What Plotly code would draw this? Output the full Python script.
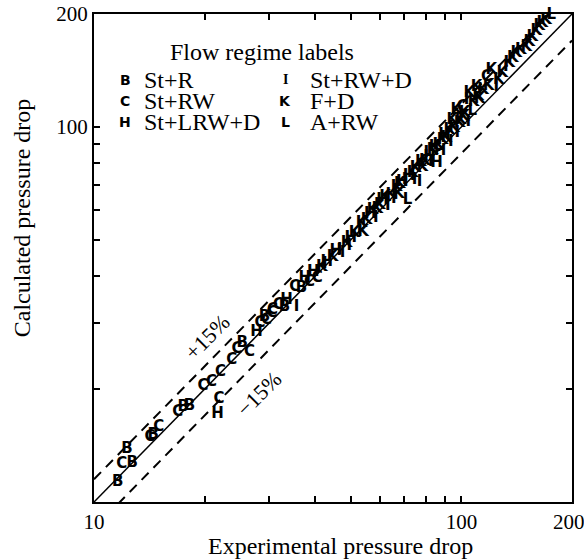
import plotly.graph_objects as go

# ---- data ----
exp_drop = [11.6, 11.9, 12.7, 12.3, 14.2, 14.5, 15.0, 16.9, 17.5, 18.2, 19.8, 20.9,
            22.1, 23.7, 24.5, 26.5, 25.3, 27.7, 29.5, 30.5, 21.7, 21.9, 28.3, 29.1,
            30.6, 31.8, 33.0, 33.4, 35.6, 35.2, 36.7, 37.5, 38.6, 39.5, 40.5, 41.7,
            43.0, 44.6, 46.6, 47.5, 48.7, 50.0, 51.2, 52.8, 53.5, 55.2, 57.3, 58.5,
            60.0, 61.0, 63.0, 64.5, 66.6, 67.5, 69.0, 70.0, 71.3, 73.6, 75.0, 76.9,
            78.3, 79.5, 80.3, 81.9, 83.4, 85.5, 86.5, 88.8, 90.0, 92.7, 94.5, 95.5,
            96.9, 97.5, 98.8, 100.6, 101.5, 103.2, 105.1, 107.0, 109.9, 112.0, 114.5,
            117.0, 120.6, 124.5, 129.2, 132.0, 135.0, 141.0, 145.0, 150.2, 156.0,
            160.0, 166.0, 170.0, 175.7,
            42.5, 45.5, 49.5, 54.0, 56.5, 59.0, 62.0, 65.5, 68.0, 72.0, 74.5, 77.5,
            82.5, 84.5, 87.5, 91.0, 93.5, 99.5, 102.0, 104.5, 108.0, 111.0, 118.5,
            126.5, 138.0, 153.0, 163.0]
calc_drop = [11.3, 12.6, 12.7, 13.8, 14.9, 15.1, 15.8, 17.3, 17.9, 18.0, 20.3, 20.9,
             22.2, 23.9, 25.5, 25.0, 26.5, 28.4, 30.6, 31.9, 17.1, 18.8, 30.0, 31.1,
             32.5, 33.5, 33.0, 34.6, 33.1, 37.4, 37.2, 39.5, 38.6, 41.0, 39.5, 42.3,
             43.6, 45.0, 47.0, 46.0, 49.1, 50.5, 52.2, 53.1, 55.5, 56.5, 60.1, 57.0,
             62.0, 63.9, 61.5, 65.9, 69.2, 66.0, 71.0, 72.2, 63.9, 75.4, 77.5, 71.3,
             78.2, 81.0, 85.3, 83.2, 86.8, 80.2, 89.5, 92.3, 95.0, 98.2, 104.4, 99.0,
             111.0, 96.0, 102.5, 113.0, 106.0, 118.0, 123.2, 110.0, 127.8, 118.5, 125.0,
             135.9, 142.0, 127.8, 139.3, 144.0, 148.2, 157.5, 160.0, 163.4, 173.8,
             180.0, 189.3, 192.0, 198.9,
             43.0, 46.5, 48.0, 52.5, 58.5, 60.5, 65.0, 64.0, 70.5, 74.0, 72.0, 80.5,
             80.5, 88.5, 86.0, 93.5, 91.0, 104.0, 108.5, 103.0, 116.0, 121.0, 128.0,
             133.0, 152.0, 168.0, 185.0]
regime = ['B', 'C', 'B', 'B', 'C', 'B', 'C', 'C', 'B', 'B', 'C', 'C',
          'C', 'C', 'C', 'C', 'B', 'H', 'C', 'C', 'H', 'C', 'C', 'B',
          'C', 'C', 'B', 'H', 'I', 'C', 'B', 'H', 'C', 'H', 'C', 'K',
          'H', 'K', 'I', 'I', 'K', 'H', 'K', 'I', 'K', 'K', 'K', 'I',
          'K', 'H', 'I', 'K', 'K', 'K', 'H', 'I', 'L', 'K', 'K', 'I',
          'K', 'K', 'I', 'H', 'K', 'H', 'K', 'K', 'H', 'K', 'K', 'K',
          'K', 'I', 'K', 'C', 'K', 'I', 'K', 'L', 'K', 'K', 'K',
          'C', 'K', 'I', 'K', 'I', 'K', 'K', 'K', 'K', 'K',
          'K', 'K', 'K', 'L',
          'I', 'H', 'I', 'K', 'H', 'K', 'K', 'I', 'K', 'H', 'I', 'K',
          'I', 'K', 'H', 'K', 'I', 'K', 'K', 'I', 'K', 'K', 'K',
          'K', 'K', 'K', 'K']

legend_glyphs_1 = ['B', 'C', 'H']
legend_names_1 = ['St+R', 'St+RW', 'St+LRW+D']
legend_glyphs_2 = ['I', 'K', 'L']
legend_names_2 = ['St+RW+D', 'F+D', 'A+RW']

line_x = [10, 200]
band = [1.15, 0.85]

x_ticks = [10, 20, 30, 40, 50, 60, 70, 80, 90, 100, 200]
x_tick_text = ['10', '', '', '', '', '', '', '', '', '100', '']
y_ticks = [10, 20, 30, 40, 50, 60, 70, 80, 90, 100, 200]
y_tick_text = ['', '', '', '', '', '', '', '', '', '100', '200']

SERIF = "Liberation Serif"
SANS = "DejaVu Sans"

fig = go.Figure()
# reference lines
fig.add_trace(go.Scatter(x=line_x, y=line_x, mode='lines',
                         line=dict(color='black', width=1.5), hoverinfo='skip'))
for f in band:
    fig.add_trace(go.Scatter(x=line_x, y=[v * f for v in line_x], mode='lines',
                             line=dict(color='black', width=2, dash='10px,7px'),
                             hoverinfo='skip'))
# data glyphs
fig.add_trace(go.Scatter(x=exp_drop, y=calc_drop, mode='text', text=regime,
                         textposition='middle center', cliponaxis=False,
                         textfont=dict(family=SANS, size=15, color='#000000', weight='bold')))

ann = []
ann.append(dict(xref='paper', yref='paper', x=0.155, y=0.922, text='Flow regime labels',
                showarrow=False, font=dict(family=SERIF, size=24, color='black'),
                xanchor='left', yanchor='middle'))
ys = [0.865, 0.822, 0.779]
for g, n, yy in zip(legend_glyphs_1, legend_names_1, ys):
    ann.append(dict(xref='paper', yref='paper', x=0.065, y=yy, text=g, showarrow=False,
                    font=dict(family=SANS, size=14, color='black', weight='bold'),
                    xanchor='center', yanchor='middle'))
    ann.append(dict(xref='paper', yref='paper', x=0.100, y=yy, text=n, showarrow=False,
                    font=dict(family=SERIF, size=24, color='black'),
                    xanchor='left', yanchor='middle'))
for g, n, yy in zip(legend_glyphs_2, legend_names_2, ys):
    ann.append(dict(xref='paper', yref='paper', x=0.400, y=yy, text=g, showarrow=False,
                    font=dict(family=SERIF if g == 'I' else SANS, size=14, color='black',
                              weight='bold'),
                    xanchor='center', yanchor='middle'))
    ann.append(dict(xref='paper', yref='paper', x=0.448, y=yy, text=n, showarrow=False,
                    font=dict(family=SERIF, size=24, color='black'),
                    xanchor='left', yanchor='middle'))
ann.append(dict(x=1.310, y=1.440, xref='x', yref='y', text='+15%', showarrow=False,
                textangle=-45, font=dict(family=SERIF, size=22, color='black')))
ann.append(dict(x=1.451, y=1.288, xref='x', yref='y', text='\u221215%', showarrow=False,
                textangle=-45, font=dict(family=SERIF, size=22, color='black')))
# x tick label 200 kept inside the page edge
ann.append(dict(xref='paper', yref='paper', x=0.994, y=-0.042, text='200', showarrow=False,
                font=dict(family=SERIF, size=21, color='black'),
                xanchor='center', yanchor='middle'))
# axis titles
ann.append(dict(xref='paper', yref='paper', x=0.515, y=-0.090,
                text='Experimental pressure drop', showarrow=False,
                font=dict(family=SERIF, size=24, color='black'),
                xanchor='center', yanchor='middle'))
ann.append(dict(xref='paper', yref='paper', x=-0.150, y=0.582,
                text='Calculated pressure drop', showarrow=False, textangle=-90,
                font=dict(family=SERIF, size=24, color='black'),
                xanchor='center', yanchor='middle'))

axis_common = dict(type='log', showgrid=False, zeroline=False, showline=True,
                   linecolor='black', linewidth=2, mirror='ticks', ticks='inside',
                   ticklen=6, tickwidth=1.5, tickcolor='black', automargin=False,
                   ticklabeloverflow='allow',
                   tickfont=dict(family=SERIF, size=21, color='black'))

fig.update_layout(
    width=584, height=560,
    margin=dict(l=94, r=12, t=14, b=58),
    paper_bgcolor='white', plot_bgcolor='white',
    showlegend=False,
    annotations=ann,
    xaxis=dict(range=[1, 2.30103], tickvals=x_ticks, ticktext=x_tick_text,
               **axis_common),
    yaxis=dict(range=[1, 2.30103], tickvals=y_ticks, ticktext=y_tick_text,
               **axis_common),
)

fig.write_html("out.html")
